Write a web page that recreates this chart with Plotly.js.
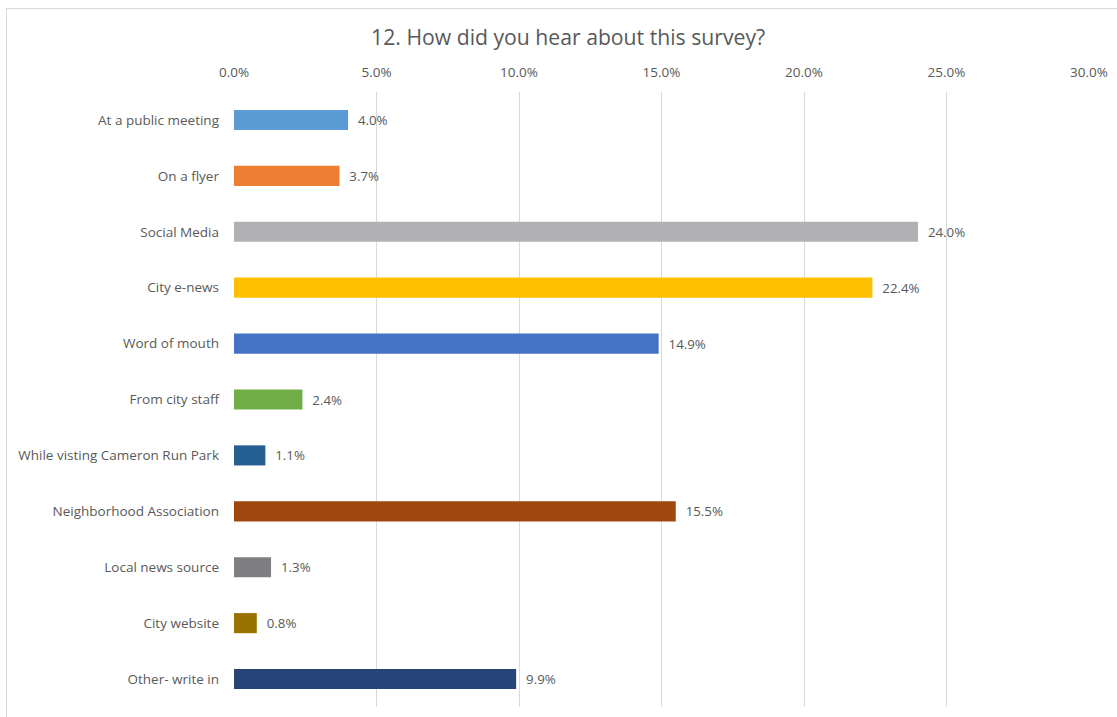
<!DOCTYPE html>
<html>
<head>
<meta charset="utf-8">
<script src="https://cdn.plot.ly/plotly-3.0.1.min.js"></script>
<style>
html,body{margin:0;padding:0;background:#fff;overflow:hidden;width:1117px;height:717px;}
#chart{position:absolute;left:6px;top:8px;width:1120px;height:720px;border:1px solid #d9d9d9;}
</style>
</head>
<body>
<div id="chart"></div>
<script>
const categories = ["At a public meeting","On a flyer","Social Media","City e-news","Word of mouth","From city staff","While visting Cameron Run Park","Neighborhood Association","Local news source","City website","Other- write in"];
const values = [4.0, 3.7, 24.0, 22.4, 14.9, 2.4, 1.1, 15.5, 1.3, 0.8, 9.9];
const colors = ["#5B9BD5","#ED7D31","#B1B1B5","#FFC000","#4472C4","#70AD47","#255E91","#9E480E","#7F7F83","#997300","#264478"];
const xTicks = [0,5,10,15,20,25,30];

const trace = {
  type:'bar', orientation:'h',
  y: categories, x: values,
  marker:{color:colors},
  text: values.map(v=>'\u00a0\u00a0'+v.toFixed(1)+'%'),
  textposition:'outside',
  cliponaxis:false,
  textfont:{family:'"Open Sans", sans-serif', size:13.3, color:'#595959'},
  hoverinfo:'none'
};
const layout = {
  width:1120, height:720,
  margin:{l:227, r:38, t:83, b:22},
  paper_bgcolor:'#fff', plot_bgcolor:'#fff',
  font:{family:'"Open Sans", sans-serif', size:13.5, color:'#595959'},
  title:{text:'12. How did you hear about this survey?', font:{size:21.2, color:'#595959'}, x:0.501, xanchor:'center', y:0.961, yanchor:'middle'},
  bargap:0.64,
  showlegend:false,
  xaxis:{side:'top', range:[0,30], tickvals:xTicks, ticktext:xTicks.map(v=>v.toFixed(1)+'%'),
    showgrid:true, gridcolor:'#d9d9d9', gridwidth:1, zeroline:false, showline:false, ticks:'', ticklabelstandoff:11, fixedrange:true},
  yaxis:{autorange:'reversed', showgrid:false, zeroline:false, showline:false, ticks:'', ticksuffix:'    ', fixedrange:true}
};
Plotly.newPlot('chart',[trace],layout,{displayModeBar:false, staticPlot:true});
</script>
</body>
</html>
